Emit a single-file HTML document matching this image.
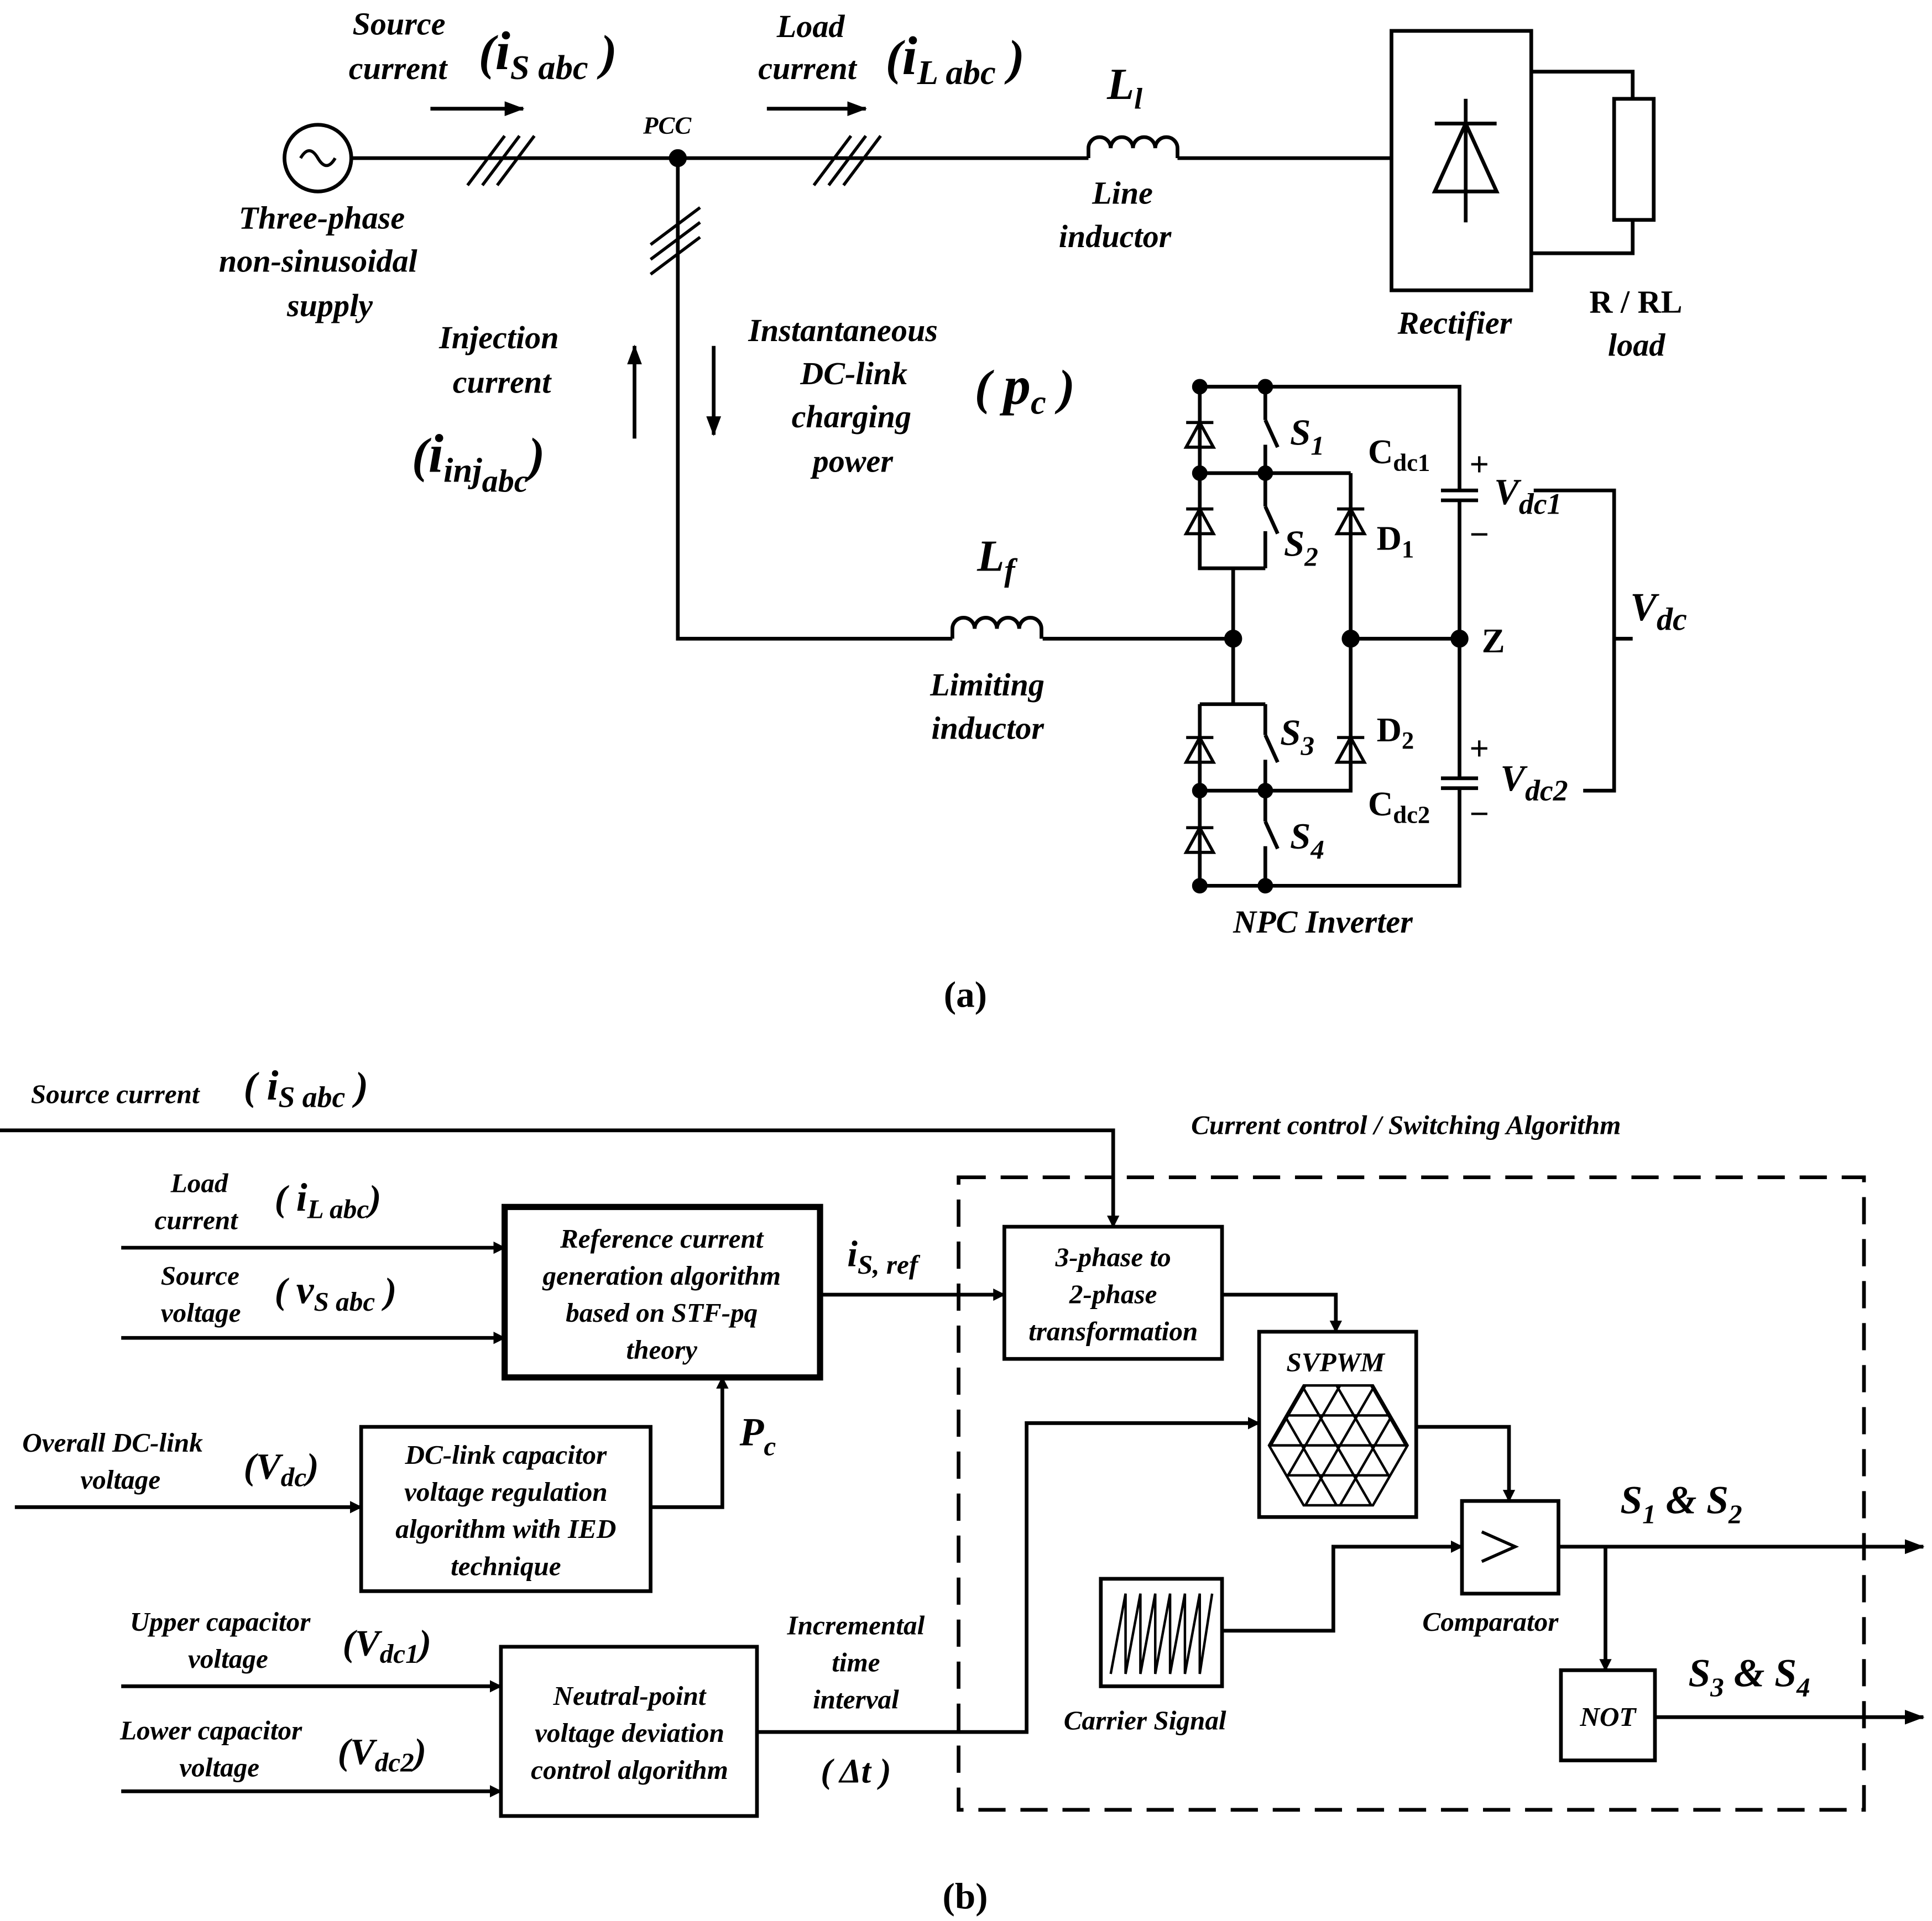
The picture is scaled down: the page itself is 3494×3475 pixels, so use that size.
<!DOCTYPE html>
<html><head><meta charset="utf-8"><style>
html,body{margin:0;padding:0;background:#fff}
svg{display:block}
text{font-family:"Liberation Serif",serif;font-weight:bold;font-style:italic;fill:#000}
</style></head><body>
<svg width="3494" height="3475" viewBox="0 0 1562 1555" preserveAspectRatio="none" xmlns="http://www.w3.org/2000/svg">
<defs>
<marker id="a" markerWidth="10" markerHeight="10" refX="9" refY="5" orient="auto" markerUnits="userSpaceOnUse"><path d="M0,0 L10,5 L0,10 z"/></marker>
<marker id="b" markerWidth="16" markerHeight="12" refX="15" refY="6" orient="auto" markerUnits="userSpaceOnUse"><path d="M0,0 L16,6 L0,12 z"/></marker>
<clipPath id="hx"><path d="M1054,1121.5 H1110 L1138,1170 L1110,1218.5 H1054 L1026,1170 Z"/></clipPath>
</defs>
<g stroke="#000" stroke-width="3" fill="none">
<circle cx="257" cy="128" r="27"/>
<path d="M243,128 q7,-12 14,0 t14,0" stroke-width="2.5"/>
<path d="M284,128 H880 M952,128 H1125"/>
<path d="M880,128 v-8 a9,9 0 0 1 18,0 a9,9 0 0 1 18,0 a9,9 0 0 1 18,0 a9,9 0 0 1 18,0 v8"/>
<g stroke-width="2.5">
<path d="M378,150 l30,-40 M390,150 l30,-40 M402,150 l30,-40"/>
<path d="M658,150 l30,-40 M670,150 l30,-40 M682,150 l30,-40"/>
<path d="M526,198 l40,-30 M526,210 l40,-30 M526,222 l40,-30"/>
</g>
<path d="M348,88 H423" marker-end="url(#b)"/>
<path d="M620,88 H700" marker-end="url(#b)"/>
<path d="M513,355 V280" marker-end="url(#b)"/>
<path d="M577,280 V352" marker-end="url(#b)"/>
<rect x="1125" y="25" width="113" height="210"/>
<path d="M1185,80 V180 M1160,100 H1210 M1160,155 H1210 L1185,100 Z"/>
<path d="M1238,58 H1320 V80 M1238,205 H1320 V178"/>
<rect x="1305" y="80" width="32" height="98"/>
<path d="M548,128 V517 H770 M843,517 H997"/>
<path d="M770,517 v-8 a9,9 0 0 1 18,0 a9,9 0 0 1 18,0 a9,9 0 0 1 18,0 a9,9 0 0 1 18,0 v8"/>
<path d="M970,313 H1180 V397 M1180,405 V630 M1180,638 V717 H970"/>
<path d="M1165,397 H1195 M1165,405 H1195 M1165,630 H1195 M1165,638 H1195"/>
<path d="M970,313 V460 H1023 M1023,313 V340 M1023,360 V410 M1023,430 V460 M970,383 H1023"/>
<path d="M1023,340 L1033,362 M1023,410 L1033,432"/>
<path d="M997,460 V570 M970,570 H1023 M970,570 V717 M1023,570 V595 M1023,615 V665 M1023,685 V717 M970,640 H1023"/>
<path d="M1023,595 L1033,617 M1023,665 L1033,687"/>
<path d="M1092,383 H1023 M1092,383 V640 H1023 M1092,517 H1180"/>
<path d="M1240,397 H1305 V640 H1280 M1305,517 H1320"/>
</g>
<g fill="#000" stroke="#000" stroke-width="2.5">
<circle cx="548" cy="128" r="6"/>
<circle cx="997" cy="517" r="6"/><circle cx="1092" cy="517" r="6"/><circle cx="1180" cy="517" r="6"/>
<circle cx="970" cy="313" r="5"/><circle cx="1023" cy="313" r="5"/><circle cx="970" cy="383" r="5"/><circle cx="1023" cy="383" r="5"/>
<circle cx="970" cy="640" r="5"/><circle cx="1023" cy="640" r="5"/><circle cx="970" cy="717" r="5"/><circle cx="1023" cy="717" r="5"/>
</g>
<g stroke="#000" stroke-width="2.5" fill="none">
<path d="M959,362 H981 L970,342 Z M959,342 H981"/>
<path d="M959,432 H981 L970,412 Z M959,412 H981"/>
<path d="M959,617 H981 L970,597 Z M959,597 H981"/>
<path d="M959,690 H981 L970,670 Z M959,670 H981"/>
<path d="M1081,432 H1103 L1092,412 Z M1081,412 H1103"/>
<path d="M1081,617 H1103 L1092,597 Z M1081,597 H1103"/>
</g>
<text x="285" y="28" font-size="26">Source</text>
<text x="282" y="64" font-size="26">current</text>
<text x="387" y="56" font-size="40">(<tspan font-size="44">i</tspan><tspan font-size="28" dy="8">S abc</tspan><tspan dy="-8"> )</tspan></text>
<text x="628" y="30" font-size="26">Load</text>
<text x="613" y="64" font-size="26">current</text>
<text x="716" y="60" font-size="40">(<tspan font-size="44">i</tspan><tspan font-size="28" dy="8">L abc</tspan><tspan dy="-8"> )</tspan></text>
<text x="520" y="108" font-size="20">PCC</text>
<text x="895" y="80" font-size="36">L<tspan font-size="24" dy="8">l</tspan></text>
<text x="883" y="165" font-size="26">Line</text>
<text x="856" y="200" font-size="26">inductor</text>
<text x="193" y="185" font-size="26">Three-phase</text>
<text x="177" y="220" font-size="26">non-sinusoidal</text>
<text x="232" y="256" font-size="26">supply</text>
<text x="1130" y="270" font-size="26">Rectifier</text>
<text x="1285" y="253" font-size="26" style="font-style:normal">R / RL</text>
<text x="1300" y="288" font-size="26">load</text>
<text x="355" y="282" font-size="26">Injection</text>
<text x="366" y="318" font-size="26">current</text>
<text x="333" y="382" font-size="40">(<tspan font-size="44">i</tspan><tspan font-size="28" dy="8">inj</tspan><tspan font-size="26" dy="8">abc</tspan><tspan dy="-16">)</tspan></text>
<text x="605" y="276" font-size="26">Instantaneous</text>
<text x="647" y="311" font-size="26">DC-link</text>
<text x="640" y="346" font-size="26">charging</text>
<text x="657" y="382" font-size="26">power</text>
<text x="788" y="327" font-size="40">( <tspan font-size="44">p</tspan><tspan font-size="28" dy="8">c</tspan><tspan dy="-8"> )</tspan></text>
<text x="790" y="462" font-size="36">L<tspan font-size="26" dy="8">f</tspan></text>
<text x="752" y="563" font-size="26">Limiting</text>
<text x="753" y="598" font-size="26">inductor</text>
<text x="1043" y="360" font-size="30">S<tspan font-size="22" dy="8">1</tspan></text>
<text x="1038" y="450" font-size="30">S<tspan font-size="22" dy="8">2</tspan></text>
<text x="1035" y="603" font-size="30">S<tspan font-size="22" dy="8">3</tspan></text>
<text x="1043" y="687" font-size="30">S<tspan font-size="22" dy="8">4</tspan></text>
<text x="1113" y="445" font-size="28" style="font-style:normal">D<tspan font-size="20" dy="6">1</tspan></text>
<text x="1113" y="600" font-size="28" style="font-style:normal">D<tspan font-size="20" dy="6">2</tspan></text>
<text x="1106" y="375" font-size="28" style="font-style:normal">C<tspan font-size="20" dy="6">dc1</tspan></text>
<text x="1106" y="660" font-size="28" style="font-style:normal">C<tspan font-size="20" dy="6">dc2</tspan></text>
<text x="1188" y="385" font-size="28" style="font-style:normal">+</text>
<text x="1188" y="442" font-size="28" style="font-style:normal">−</text>
<text x="1188" y="615" font-size="28" style="font-style:normal">+</text>
<text x="1188" y="668" font-size="28" style="font-style:normal">−</text>
<text x="1208" y="408" font-size="30">V<tspan font-size="24" dy="8">dc1</tspan></text>
<text x="1213" y="640" font-size="30">V<tspan font-size="24" dy="8">dc2</tspan></text>
<text x="1318" y="502" font-size="32">V<tspan font-size="26" dy="8">dc</tspan></text>
<text x="1198" y="528" font-size="28" style="font-style:normal">Z</text>
<text x="997" y="755" font-size="26">NPC Inverter</text>
<text x="763" y="815" font-size="30" style="font-style:normal">(a)</text>
<g stroke="#000" stroke-width="3" fill="none">
<rect x="775" y="953" width="732" height="512" stroke-dasharray="22,12"/>
<rect x="408" y="977" width="255" height="138" stroke-width="5"/>
<rect x="812" y="993" width="176" height="107"/>
<rect x="292" y="1155" width="234" height="133"/>
<rect x="405" y="1333" width="207" height="137"/>
<rect x="1018" y="1078" width="127" height="150"/>
<rect x="890" y="1278" width="98" height="87"/>
<rect x="1182" y="1215" width="78" height="75"/>
<rect x="1262" y="1352" width="76" height="73"/>
<path d="M0,915 H900 V993" marker-end="url(#a)"/>
<path d="M98,1010 H408" marker-end="url(#a)"/>
<path d="M98,1083 H408" marker-end="url(#a)"/>
<path d="M663,1048 H812" marker-end="url(#a)"/>
<path d="M988,1048 H1080 V1078" marker-end="url(#a)"/>
<path d="M12,1220 H292" marker-end="url(#a)"/>
<path d="M526,1220 H584 V1115" marker-end="url(#a)"/>
<path d="M98,1365 H405" marker-end="url(#a)"/>
<path d="M98,1450 H405" marker-end="url(#a)"/>
<path d="M612,1402 H830 V1152 H1018" marker-end="url(#a)"/>
<path d="M1145,1155 H1220 V1215" marker-end="url(#a)"/>
<path d="M988,1320 H1078 V1252 H1182" marker-end="url(#a)"/>
<path d="M1260,1252 H1555" marker-end="url(#b)"/>
<path d="M1298,1252 V1352" marker-end="url(#a)"/>
<path d="M1338,1390 H1555" marker-end="url(#b)"/>
<path d="M1198,1240 L1225,1252 L1198,1264" stroke-width="2.5"/>
<path d="M898,1355 L910,1290 V1355 L922,1290 V1355 L934,1290 V1355 L946,1290 V1355 L958,1290 V1355 L970,1290 V1355 L980,1290" stroke-width="2"/>
<g stroke-width="2">
<path d="M1054,1121.5 H1110 L1138,1170 L1110,1218.5 H1054 L1026,1170 Z"/>
<g clip-path="url(#hx)">
<path d="M1020,1145.75 H1145 M1020,1170 H1145 M1020,1194.25 H1145"/>
<path d="M968,1072 L1080,1266 M996,1072 L1108,1266 M1024,1072 L1136,1266 M1052,1072 L1164,1266 M1080,1072 L1192,1266 M940,1072 L1052,1266 M912,1072 L1024,1266"/>
<path d="M1196,1072 L1084,1266 M1168,1072 L1056,1266 M1140,1072 L1028,1266 M1112,1072 L1000,1266 M1084,1072 L972,1266 M1224,1072 L1112,1266 M1252,1072 L1140,1266"/>
</g>
</g>
</g>
<text x="25" y="893" font-size="22">Source current</text>
<text x="197" y="890" font-size="32">( <tspan font-size="34">i</tspan><tspan font-size="24" dy="6">S abc</tspan><tspan dy="-6"> )</tspan></text>
<text x="963" y="918" font-size="22">Current control / Switching Algorithm</text>
<text x="138" y="965" font-size="22">Load</text>
<text x="125" y="995" font-size="22">current</text>
<text x="222" y="980" font-size="30">( <tspan font-size="32">i</tspan><tspan font-size="22" dy="6">L abc</tspan><tspan dy="-6">)</tspan></text>
<text x="130" y="1040" font-size="22">Source</text>
<text x="130" y="1070" font-size="22">voltage</text>
<text x="222" y="1055" font-size="30">( <tspan font-size="32">v</tspan><tspan font-size="22" dy="6">S abc</tspan><tspan dy="-6"> )</tspan></text>
<text x="535" y="1010" font-size="22" text-anchor="middle">Reference current</text>
<text x="535" y="1040" font-size="22" text-anchor="middle">generation algorithm</text>
<text x="535" y="1070" font-size="22" text-anchor="middle">based on STF-pq</text>
<text x="535" y="1100" font-size="22" text-anchor="middle">theory</text>
<text x="685" y="1025" font-size="30">i<tspan font-size="22" dy="6">S, ref</tspan></text>
<text x="900" y="1025" font-size="22" text-anchor="middle">3-phase to</text>
<text x="900" y="1055" font-size="22" text-anchor="middle">2-phase</text>
<text x="900" y="1085" font-size="22" text-anchor="middle">transformation</text>
<text x="1040" y="1110" font-size="22">SVPWM</text>
<text x="18" y="1175" font-size="22">Overall DC-link</text>
<text x="65" y="1205" font-size="22">voltage</text>
<text x="197" y="1197" font-size="30">(V<tspan font-size="22" dy="6">dc</tspan><tspan dy="-6">)</tspan></text>
<text x="409" y="1185" font-size="22" text-anchor="middle">DC-link capacitor</text>
<text x="409" y="1215" font-size="22" text-anchor="middle">voltage regulation</text>
<text x="409" y="1245" font-size="22" text-anchor="middle">algorithm with IED</text>
<text x="409" y="1275" font-size="22" text-anchor="middle">technique</text>
<text x="598" y="1170" font-size="32">P<tspan font-size="22" dy="8">c</tspan></text>
<text x="1310" y="1225" font-size="32">S<tspan font-size="22" dy="8">1</tspan><tspan dy="-8"> &amp; S</tspan><tspan font-size="22" dy="8">2</tspan></text>
<text x="1365" y="1365" font-size="32">S<tspan font-size="22" dy="8">3</tspan><tspan dy="-8"> &amp; S</tspan><tspan font-size="22" dy="8">4</tspan></text>
<text x="1150" y="1320" font-size="22">Comparator</text>
<text x="1300" y="1397" font-size="22" text-anchor="middle">NOT</text>
<text x="860" y="1400" font-size="22">Carrier Signal</text>
<text x="105" y="1320" font-size="22">Upper capacitor</text>
<text x="152" y="1350" font-size="22">voltage</text>
<text x="277" y="1340" font-size="30">(V<tspan font-size="22" dy="6">dc1</tspan><tspan dy="-6">)</tspan></text>
<text x="97" y="1408" font-size="22">Lower capacitor</text>
<text x="145" y="1438" font-size="22">voltage</text>
<text x="273" y="1428" font-size="30">(V<tspan font-size="22" dy="6">dc2</tspan><tspan dy="-6">)</tspan></text>
<text x="509" y="1380" font-size="22" text-anchor="middle">Neutral-point</text>
<text x="509" y="1410" font-size="22" text-anchor="middle">voltage deviation</text>
<text x="509" y="1440" font-size="22" text-anchor="middle">control algorithm</text>
<text x="692" y="1323" font-size="22" text-anchor="middle">Incremental</text>
<text x="692" y="1353" font-size="22" text-anchor="middle">time</text>
<text x="692" y="1383" font-size="22" text-anchor="middle">interval</text>
<text x="692" y="1443" font-size="28" text-anchor="middle">( Δt )</text>
<text x="762" y="1545" font-size="30" style="font-style:normal">(b)</text>
</svg>
</body></html>
